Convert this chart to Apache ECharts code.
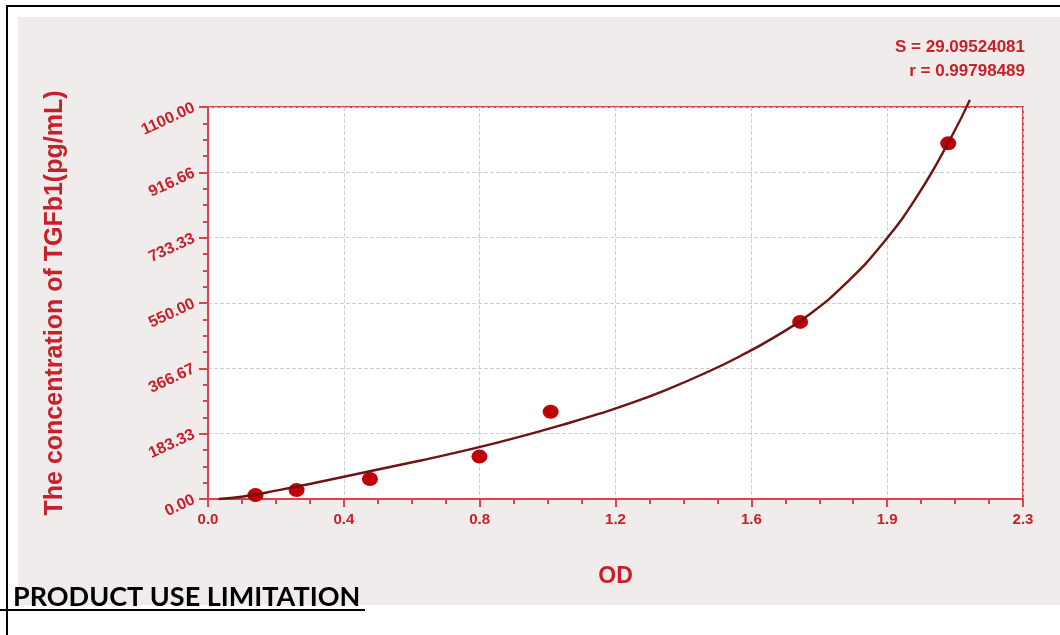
<!DOCTYPE html>
<html>
<head>
<meta charset="utf-8">
<script src="https://cdn.jsdelivr.net/npm/echarts@6/dist/echarts.min.js"></script>
<style>
  html, body { margin: 0; padding: 0; background: #ffffff; }
  #wrap { position: relative; width: 1060px; height: 635px; overflow: hidden; }
  #gray { position: absolute; left: 18px; top: 17px; width: 1042px; height: 588px; background: #efeceb; }
  #chart { position: absolute; left: 0; top: 0; width: 1060px; height: 635px; }
</style>
</head>
<body>
<div id="wrap">
  <div id="gray"></div>
  <div id="chart"></div>
</div>
<script>
// ---- data ----
const xTickLabels = ['0.0', '0.4', '0.8', '1.2', '1.6', '1.9', '2.3'];
const yTickLabels = ['0.00', '183.33', '366.67', '550.00', '733.33', '916.66', '1100.00'];
const odValues   = [0.134, 0.25, 0.457, 0.766, 0.967, 1.671, 2.089];
const concValues = [11, 25, 56, 119, 245, 497, 998];
const curveOD    = [0.03, 0.1, 0.2, 0.3, 0.4, 0.5, 0.6, 0.7, 0.8, 0.9, 1.0, 1.1, 1.2, 1.3, 1.4, 1.5, 1.6, 1.7, 1.8, 1.9, 2.0, 2.1, 2.15];
const curveConc  = [0, 7, 25, 45, 66, 87, 108, 130, 154, 180, 208, 238, 271, 309, 352, 400, 455, 520, 605, 712, 848, 1020, 1120];
const statLines  = ['S = 29.09524081', 'r = 0.99798489'];

const xMax = 2.3, yMax = 1100;
const xStep = xMax / 6, yStep = yMax / 6;

const red = '#c8202a';
const axisRed = '#d8464d';
const font = 'Liberation Sans, Arial, sans-serif';

const chart = echarts.init(document.getElementById('chart'));
chart.setOption({
  backgroundColor: 'transparent',
  animation: false,
  grid: {
    left: 208, right: 37, top: 107, bottom: 136,
    show: true, backgroundColor: '#ffffff', borderColor: axisRed, borderWidth: 2
  },
  xAxis: {
    type: 'value', min: 0, max: xMax, interval: xStep,
    name: 'OD', nameLocation: 'middle', nameGap: 66,
    nameTextStyle: { color: red, fontSize: 23, fontWeight: 'bold', fontFamily: font },
    axisLine: { show: true, lineStyle: { color: axisRed, width: 2 } },
    axisTick: { show: true, length: 8, lineStyle: { color: axisRed, width: 2 } },
    minorTick: { show: true, splitNumber: 4, length: 5, lineStyle: { color: axisRed, width: 2 } },
    axisLabel: {
      color: red, fontSize: 15, fontWeight: 'bold', fontFamily: font, margin: 13,
      formatter: v => xTickLabels[Math.round(v / xStep)]
    },
    splitLine: { show: true, lineStyle: { color: '#cfcfcf', type: 'dashed', width: 1 } }
  },
  yAxis: {
    type: 'value', min: 0, max: yMax, interval: yStep,
    name: 'The concentration of TGFb1(pg/mL)', nameLocation: 'middle', nameGap: 140,
    nameTextStyle: { color: red, fontSize: 25, fontWeight: 'bold', fontFamily: font },
    axisLine: { show: true, lineStyle: { color: axisRed, width: 2 } },
    axisTick: { show: true, length: 9, lineStyle: { color: axisRed, width: 2 } },
    minorTick: { show: true, splitNumber: 4, length: 5, lineStyle: { color: axisRed, width: 2 } },
    axisLabel: {
      color: red, fontSize: 16, fontWeight: 'bold', fontFamily: font, margin: 14, rotate: 25,
      formatter: v => yTickLabels[Math.round(v / yStep)]
    },
    splitLine: { show: true, lineStyle: { color: '#cfcfcf', type: 'dashed', width: 1 } }
  },
  series: [
    {
      type: 'scatter', z: 2,
      data: odValues.map((x, i) => [x, concValues[i]]),
      symbol: 'circle', symbolSize: [16, 14],
      itemStyle: { color: '#c00008', opacity: 1 }
    },
    {
      type: 'line', z: 3, smooth: true, showSymbol: false, clip: false,
      data: curveOD.map((x, i) => [x, curveConc[i]]),
      lineStyle: { color: '#6e1212', width: 2.4 }
    }
  ],
  graphic: [
    { type: 'text', right: 35, top: 39, style: { text: statLines[0], fill: red, font: 'bold 17px ' + font, textAlign: 'right' } },
    { type: 'text', right: 35, top: 63, style: { text: statLines[1], fill: red, font: 'bold 17px ' + font, textAlign: 'right' } },
    { type: 'line', shape: { x1: 6, y1: 6, x2: 1060, y2: 6 }, style: { stroke: '#000', lineWidth: 2 } },
    { type: 'line', shape: { x1: 7, y1: 5, x2: 7, y2: 635 }, style: { stroke: '#000', lineWidth: 2 } },
    { type: 'line', shape: { x1: 0, y1: 610, x2: 365, y2: 610 }, style: { stroke: '#000', lineWidth: 2 } },
    { type: 'text', left: 13, top: 584, style: { text: 'PRODUCT USE LIMITATION', fill: '#000', font: 'bold 27px Lato, "Open Sans", sans-serif' } }
  ]
});
</script>
</body>
</html>
